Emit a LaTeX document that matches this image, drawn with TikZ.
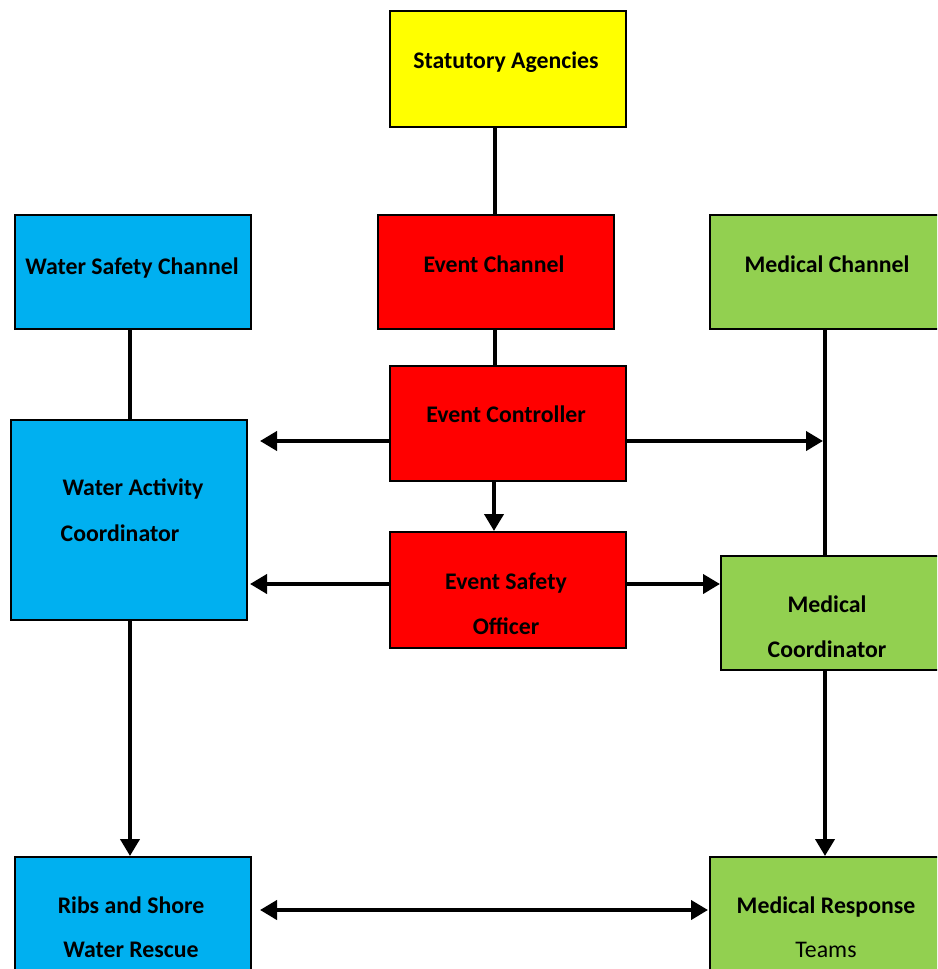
\documentclass[tikz,border=0pt]{standalone}
\usepackage{fontspec}
\setmainfont{Carlito}
\usetikzlibrary{arrows.meta}
\definecolor{cyel}{HTML}{FFFF00}
\definecolor{cred}{HTML}{FF0000}
\definecolor{cblue}{HTML}{00B0F0}
\definecolor{cgreen}{HTML}{92D050}
\tikzset{
  box/.style={draw=black, line width=1.5pt, inner sep=0pt, anchor=north west},
  lbl/.style={anchor=mid, inner sep=0pt, font=\fontsize{23.8}{28}\selectfont\bfseries, align=center},
  lbl2/.style={anchor=mid, inner sep=0pt, font=\fontsize{23.8}{28}\selectfont},
  conn/.style={line width=4pt},
  arr/.style={line width=4pt, -{Triangle[length=17pt,width=19pt]}},
  darr/.style={line width=4pt, {Triangle[length=17pt,width=19pt]}-{Triangle[length=17pt,width=19pt]}},
}
\begin{document}
\begin{tikzpicture}[x=1pt,y=-1pt]
\useasboundingbox (0,0) rectangle (937,969);
\clip (0,0) rectangle (937,969);
% boxes
\node[box, fill=cyel, minimum width=236pt, minimum height=116pt] (sa) at (389,10) {};
\node[box, fill=cred, minimum width=236pt, minimum height=114pt] (ech) at (377,214) {};
\node[box, fill=cblue, minimum width=236pt, minimum height=114pt] (wsc) at (14,214) {};
\node[box, fill=cgreen, minimum width=236pt, minimum height=114pt] (mch) at (709,214) {};
\node[box, fill=cred, minimum width=236pt, minimum height=115pt] (ec) at (389,365) {};
\node[box, fill=cblue, minimum width=236pt, minimum height=200pt] (wac) at (10,419) {};
\node[box, fill=cred, minimum width=236pt, minimum height=116pt] (eso) at (389,531) {};
\node[box, fill=cgreen, minimum width=226pt, minimum height=114pt] (mc) at (720,555) {};
\node[box, fill=cblue, minimum width=236pt, minimum height=130pt] (rib) at (14,856) {};
\node[box, fill=cgreen, minimum width=236pt, minimum height=130pt] (mrt) at (709,856) {};
% labels
\node[lbl] (tsa) at (506,66) {Statutory Agencies};
\node[lbl] (tech) at (494,270) {Event Channel};
\node[lbl] (twsc) at (132,272) {Water Safety Channel};
\node[lbl] (tmch) at (827,270) {Medical Channel};
\node[lbl] (tec) at (506,420) {Event Controller};
\node[lbl] (twac1) at (133,493) {Water Activity};
\node[lbl] (twac2) at (120,539) {Coordinator};
\node[lbl] (teso1) at (506,587) {Event Safety};
\node[lbl] (teso2) at (506,632) {Officer};
\node[lbl] (tmc1) at (827,610) {Medical};
\node[lbl] (tmc2) at (827,655) {Coordinator};
\node[lbl] (trib1) at (131,911) {Ribs and Shore};
\node[lbl] (trib2) at (131,955) {Water Rescue};
\node[lbl] (tmrt1) at (826,911) {Medical Response};
\node[lbl2] (tmrt2) at (826,955) {Teams};
% free ends
\coordinate (ecL) at (260,441);
\coordinate (ecR) at (823,441);
\coordinate (esoL) at (250,584);
\coordinate (ribR) at (260,910);
\coordinate (mrtL) at (708,910);
% connectors
\draw[conn] (sa.south -| 495,0) -- (ech.north -| 495,0);
\draw[conn] (ech.south -| 495,0) -- (ec.north -| 495,0);
\draw[conn] (wsc.south -| 130,0) -- (wac.north -| 130,0);
\draw[conn] (mch.south -| 825,0) -- (mc.north -| 825,0);
\draw[arr] (ec.west |- ecL) -- (ecL);
\draw[arr] (ec.east |- ecR) -- (ecR);
\draw[arr] (ec.south -| 494,0) -- (eso.north -| 494,0);
\draw[arr] (eso.west |- esoL) -- (esoL);
\draw[arr] (eso.east |- esoL) -- (mc.west |- esoL);
\draw[arr] (wac.south -| 130,0) -- (rib.north -| 130,0);
\draw[arr] (mc.south -| 825,0) -- (mrt.north -| 825,0);
\draw[darr] (ribR) -- (mrtL);
\end{tikzpicture}
\end{document}
